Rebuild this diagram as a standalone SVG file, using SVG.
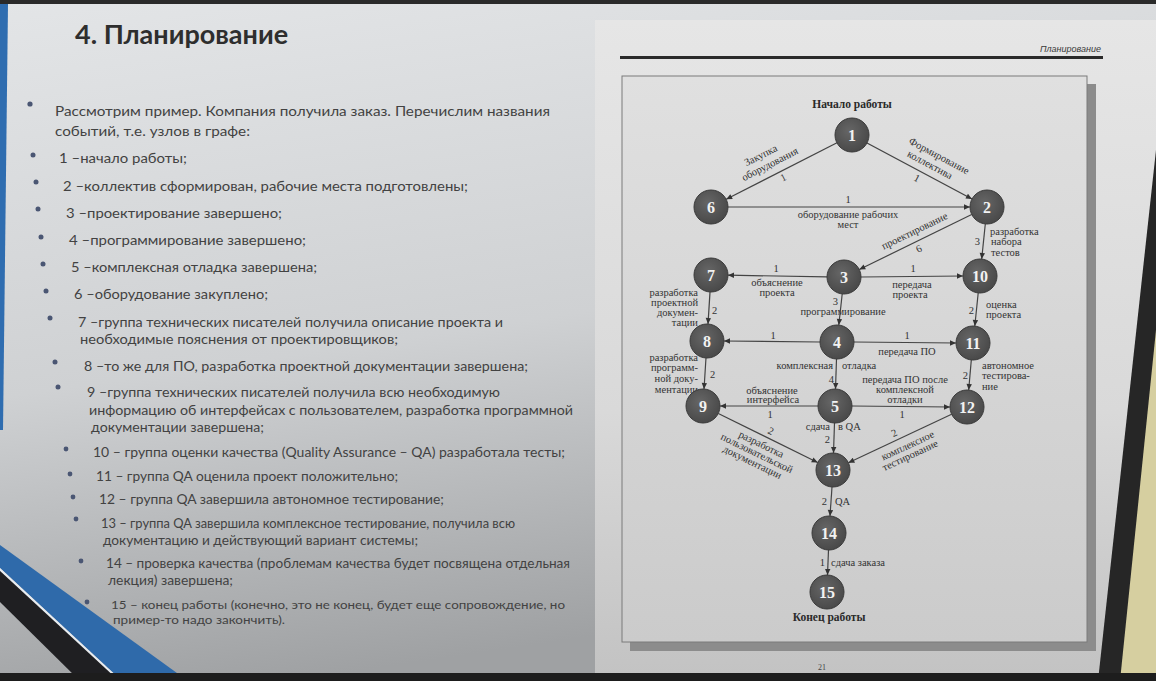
<svg xmlns="http://www.w3.org/2000/svg" width="1156" height="681" viewBox="0 0 1156 681">
  <defs>
    <linearGradient id="slideBg" x1="0" y1="0" x2="0.25" y2="1">
      <stop offset="0" stop-color="#e3e5e7"/>
      <stop offset="0.55" stop-color="#cfd1d3"/>
      <stop offset="1" stop-color="#9fa1a3"/>
    </linearGradient>
    <linearGradient id="pageBg" x1="0" y1="0" x2="0" y2="1">
      <stop offset="0" stop-color="#e6e6e6"/>
      <stop offset="0.6" stop-color="#d9d9d9"/>
      <stop offset="1" stop-color="#c3c3c3"/>
    </linearGradient>
    <linearGradient id="boxBg" x1="0" y1="0" x2="0" y2="1">
      <stop offset="0" stop-color="#e0e0e0"/>
      <stop offset="1" stop-color="#cbcbcb"/>
    </linearGradient>
    <radialGradient id="nodeFill" cx="0.42" cy="0.38" r="0.65">
      <stop offset="0" stop-color="#666"/>
      <stop offset="1" stop-color="#484848"/>
    </radialGradient>
    <marker id="arr" viewBox="0 0 10 10" refX="10" refY="5" markerWidth="8" markerHeight="6" orient="auto" markerUnits="userSpaceOnUse">
      <path d="M0,0.5 L10,5 L0,9.5 z" fill="#333"/>
    </marker>
    <style>
      .title { font-family: Lato, "Open Sans", sans-serif; font-weight: 700; font-size: 27px; fill: #2e2e2e; }
      .txt { font-family: Lato, "Liberation Sans", sans-serif; fill: #424242; }
      .bul { fill: #4a5673; }
      .edge { stroke: #444; stroke-width: 1.2; fill: none; marker-end: url(#arr); }
      .lbl { font-family: "Liberation Serif", "DejaVu Serif", serif; font-size: 10.5px; fill: #333; }
      .cap { font-family: "Liberation Serif", "DejaVu Serif", serif; font-size: 11.5px; font-weight: 700; fill: #2a2a2a; text-anchor: middle; }
      .node circle { fill: url(#nodeFill); stroke: #3a3a3a; stroke-width: 1; }
      .node text { font-family: "Liberation Serif", "DejaVu Serif", serif; font-size: 16px; font-weight: 700; fill: #f2f2f2; text-anchor: middle; }
      .mid { text-anchor: middle; }
      .end { text-anchor: end; }
    </style>
  </defs>

  <!-- slide background -->
  <rect x="0" y="0" width="1156" height="681" fill="url(#slideBg)"/>
  <rect x="0" y="0" width="1156" height="4" fill="#2a2a2a"/>
  <polygon points="0,4 8,4 3,430 0,430" fill="#2f6db0"/>

  <!-- decorative stripes, lower left -->
  <polygon points="0,545 0,568 122,681 188,681" fill="#2f6aaa"/>
  <polygon points="0,568 0,571 119,681 122,681" fill="#e8ecf0"/>
  <polygon points="0,571 0,602 80,681 119,681" fill="#1f1f22"/>

  <!-- page with the figure -->
  <rect x="595" y="20" width="561" height="653" fill="url(#pageBg)"/>
  <text x="1101" y="52" font-family="Liberation Sans, sans-serif" font-size="9" font-style="italic" fill="#3a3a3a" text-anchor="end">Планирование</text>
  <rect x="620" y="56" width="483" height="3" fill="#2a2a2a"/>
  <rect x="1087" y="84" width="9" height="567" fill="#8c8c8c"/>
  <rect x="630" y="642" width="466" height="9" fill="#8c8c8c"/>
  <rect x="622" y="76" width="465" height="566" fill="url(#boxBg)" stroke="#7a7a7a" stroke-width="1"/>
  <text x="822" y="670" font-family="Liberation Serif, serif" font-size="8" fill="#444" text-anchor="middle">21</text>

  <!-- monitor edge, lower right -->
  <polygon points="1156,150 1156,681 1098,681" fill="#262626"/>
  <polygon points="1156,330 1156,681 1120,681" fill="#d6cfa0"/>
  <rect x="0" y="673" width="1156" height="8" fill="#1d1d1d"/>

  <!-- heading and list of events -->
  <text class="title" x="75" y="44">4. Планирование</text>

  <g id="event-list">
    <circle class="bul" cx="30" cy="104" r="2.6"/>
    <text class="txt" x="55" y="116" font-size="14" textLength="495" lengthAdjust="spacingAndGlyphs">Рассмотрим пример. Компания получила заказ. Перечислим названия</text>
    <text class="txt" x="55" y="136" font-size="14" textLength="195" lengthAdjust="spacingAndGlyphs">событий, т.е. узлов в графе:</text>

    <circle class="bul" cx="33" cy="155" r="2.5"/>
    <text class="txt" x="59" y="163" font-size="13.5" textLength="128" lengthAdjust="spacingAndGlyphs">1 –начало работы;</text>
    <circle class="bul" cx="36" cy="182" r="2.5"/>
    <text class="txt" x="63" y="191" font-size="13.5" textLength="405" lengthAdjust="spacingAndGlyphs">2 –коллектив сформирован, рабочие места подготовлены;</text>
    <circle class="bul" cx="38" cy="209" r="2.5"/>
    <text class="txt" x="66" y="218" font-size="13.5" textLength="216" lengthAdjust="spacingAndGlyphs">3 –проектирование завершено;</text>
    <circle class="bul" cx="41" cy="237" r="2.5"/>
    <text class="txt" x="69" y="245" font-size="13.5" textLength="237" lengthAdjust="spacingAndGlyphs">4 –программирование завершено;</text>
    <circle class="bul" cx="43" cy="264" r="2.5"/>
    <text class="txt" x="71" y="272" font-size="13.3" textLength="246" lengthAdjust="spacingAndGlyphs">5 –комплексная отладка завершена;</text>
    <circle class="bul" cx="46" cy="291" r="2.5"/>
    <text class="txt" x="74" y="299" font-size="13.3" textLength="194" lengthAdjust="spacingAndGlyphs">6 –оборудование закуплено;</text>
    <circle class="bul" cx="50" cy="318" r="2.5"/>
    <text class="txt" x="78" y="327" font-size="13.2" textLength="425" lengthAdjust="spacingAndGlyphs">7 –группа технических писателей получила описание проекта и</text>
    <text class="txt" x="80" y="344" font-size="13.2" textLength="318" lengthAdjust="spacingAndGlyphs">необходимые пояснения от проектировщиков;</text>
    <circle class="bul" cx="55" cy="362" r="2.5"/>
    <text class="txt" x="84" y="371" font-size="13" textLength="444" lengthAdjust="spacingAndGlyphs">8 –то же для ПО, разработка проектной документации завершена;</text>
    <circle class="bul" cx="58" cy="387" r="2.5"/>
    <text class="txt" x="87" y="397" font-size="13" textLength="413" lengthAdjust="spacingAndGlyphs">9 –группа технических писателей получила всю необходимую</text>
    <text class="txt" x="89" y="415" font-size="13" textLength="484" lengthAdjust="spacingAndGlyphs">информацию об интерфейсах с пользователем, разработка программной</text>
    <text class="txt" x="91" y="432" font-size="13" textLength="173" lengthAdjust="spacingAndGlyphs">документации завершена;</text>
    <circle class="bul" cx="66" cy="449" r="2.4"/>
    <text class="txt" x="93" y="457" font-size="12.8" textLength="472" lengthAdjust="spacingAndGlyphs">10 – группа оценки качества (Quality Assurance – QA) разработала тесты;</text>
    <circle class="bul" cx="70" cy="474" r="2.4"/>
    <text class="txt" x="96" y="481" font-size="12.8" textLength="302" lengthAdjust="spacingAndGlyphs">11 – группа QA оценила проект положительно;</text>
    <circle class="bul" cx="73" cy="497" r="2.4"/>
    <text class="txt" x="99" y="504" font-size="12.6" textLength="345" lengthAdjust="spacingAndGlyphs">12 – группа QA завершила автономное тестирование;</text>
    <circle class="bul" cx="76" cy="519" r="2.4"/>
    <text class="txt" x="101" y="528" font-size="12.6" textLength="414" lengthAdjust="spacingAndGlyphs">13 – группа QA завершила комплексное тестирование, получила всю</text>
    <text class="txt" x="103" y="545" font-size="12.6" textLength="315" lengthAdjust="spacingAndGlyphs">документацию и действующий вариант системы;</text>
    <circle class="bul" cx="81" cy="561" r="2.4"/>
    <text class="txt" x="106" y="568" font-size="12.4" textLength="464" lengthAdjust="spacingAndGlyphs">14 – проверка качества (проблемам качества будет посвящена отдельная</text>
    <text class="txt" x="108" y="585" font-size="12.4" textLength="125" lengthAdjust="spacingAndGlyphs">лекция) завершена;</text>
    <circle class="bul" cx="87" cy="602" r="2.4"/>
    <text class="txt" x="111" y="609" font-size="12.2" textLength="454" lengthAdjust="spacingAndGlyphs">15 – конец работы (конечно, это не конец, будет еще сопровождение, но</text>
    <text class="txt" x="113" y="624" font-size="12.2" textLength="172" lengthAdjust="spacingAndGlyphs">пример-то надо закончить).</text>
  </g>

  <!-- network graph: connectors -->
  <g id="connectors">
    <line class="edge" x1="837" y1="142.7" x2="726.2" y2="199.3"/>
    <line class="edge" x1="867" y1="143" x2="972" y2="199"/>
    <line class="edge" x1="728" y1="207" x2="970" y2="207"/>
    <line class="edge" x1="971.7" y1="214.5" x2="859.3" y2="269.5"/>
    <line class="edge" x1="985.3" y1="224" x2="981.7" y2="259"/>
    <line class="edge" x1="827" y1="276.8" x2="728" y2="275.2"/>
    <line class="edge" x1="861" y1="277" x2="963" y2="276"/>
    <line class="edge" x1="842.2" y1="294" x2="838.8" y2="325"/>
    <line class="edge" x1="710" y1="292" x2="708" y2="324"/>
    <line class="edge" x1="978.2" y1="293" x2="974.8" y2="326"/>
    <line class="edge" x1="820" y1="342" x2="724" y2="341"/>
    <line class="edge" x1="854" y1="342" x2="956" y2="343"/>
    <line class="edge" x1="836.5" y1="359" x2="835.5" y2="389"/>
    <line class="edge" x1="706" y1="358" x2="704" y2="389"/>
    <line class="edge" x1="971.3" y1="360" x2="968.7" y2="390"/>
    <line class="edge" x1="818" y1="406" x2="720" y2="406"/>
    <line class="edge" x1="852" y1="406" x2="950" y2="407"/>
    <line class="edge" x1="834.5" y1="423" x2="833.5" y2="453"/>
    <line class="edge" x1="718.3" y1="413.5" x2="817.7" y2="462.5"/>
    <line class="edge" x1="951.6" y1="414.2" x2="848.4" y2="462.8"/>
    <line class="edge" x1="832" y1="487" x2="830" y2="516"/>
    <line class="edge" x1="828.5" y1="550" x2="827.5" y2="575"/>
  </g>

  <!-- connector labels -->
  <g id="edge-labels">
    <text class="cap" x="852" y="108">Начало работы</text>
    <text class="cap" x="829" y="621">Конец работы</text>

    <!-- 1 -> 6 -->
    <g transform="translate(775,174.3) rotate(-27)">
      <text class="lbl mid" x="-4" y="-20">Закупка</text>
      <text class="lbl mid" x="0" y="-8">оборудования</text>
      <text class="lbl mid" x="6" y="10">1</text>
    </g>
    <!-- 1 -> 2 -->
    <g transform="translate(925,173.9) rotate(28)">
      <text class="lbl mid" x="4" y="-19">Формирование</text>
      <text class="lbl mid" x="0" y="-7">коллектива</text>
      <text class="lbl mid" x="-5" y="11">1</text>
    </g>
    <!-- 6 -> 2 -->
    <text class="lbl mid" x="848" y="203">1</text>
    <text class="lbl mid" x="848" y="218">оборудование рабочих</text>
    <text class="lbl mid" x="848" y="228">мест</text>
    <!-- 2 -> 3 -->
    <g transform="translate(915.5,242) rotate(-26)">
      <text class="lbl mid" x="4" y="-7">проектирование</text>
      <text class="lbl mid" x="0" y="11">6</text>
    </g>
    <!-- 2 -> 10 -->
    <text class="lbl end" x="980" y="245">3</text>
    <text class="lbl" x="990" y="235">разработка</text>
    <text class="lbl" x="991" y="245">набора</text>
    <text class="lbl" x="991" y="256">тестов</text>
    <!-- 3 -> 7 -->
    <text class="lbl mid" x="776" y="272">1</text>
    <text class="lbl mid" x="777" y="286">объяснение</text>
    <text class="lbl mid" x="777" y="296">проекта</text>
    <!-- 3 -> 10 -->
    <text class="lbl mid" x="913" y="272">1</text>
    <text class="lbl mid" x="912" y="288">передача</text>
    <text class="lbl mid" x="910" y="298">проекта</text>
    <!-- 3 -> 4 -->
    <text class="lbl end" x="838" y="305">3</text>
    <text class="lbl mid" x="843" y="315">программирование</text>
    <!-- 7 -> 8 -->
    <text class="lbl" x="712" y="314">2</text>
    <text class="lbl end" x="698" y="296">разработка</text>
    <text class="lbl end" x="698" y="306">проектной</text>
    <text class="lbl end" x="698" y="316">докумен-</text>
    <text class="lbl end" x="698" y="326">тации</text>
    <!-- 10 -> 11 -->
    <text class="lbl end" x="974" y="314">2</text>
    <text class="lbl" x="986" y="308">оценка</text>
    <text class="lbl" x="986" y="318">проекта</text>
    <!-- 4 -> 8 -->
    <text class="lbl mid" x="773" y="339">1</text>
    <!-- 4 -> 11 -->
    <text class="lbl mid" x="907" y="339">1</text>
    <text class="lbl mid" x="907" y="355">передача ПО</text>
    <!-- 4 -> 5 -->
    <text class="lbl end" x="833" y="369">комплексная</text>
    <text class="lbl" x="842" y="369">отладка</text>
    <text class="lbl end" x="834" y="383">4</text>
    <!-- 8 -> 9 -->
    <text class="lbl" x="710" y="378">2</text>
    <text class="lbl end" x="698" y="361">разработка</text>
    <text class="lbl end" x="698" y="371">программ-</text>
    <text class="lbl end" x="698" y="382">ной доку-</text>
    <text class="lbl end" x="698" y="393">ментации</text>
    <!-- 11 -> 12 -->
    <text class="lbl end" x="968" y="379">2</text>
    <text class="lbl" x="982" y="369">автономное</text>
    <text class="lbl" x="982" y="379">тестирова-</text>
    <text class="lbl" x="982" y="390">ние</text>
    <!-- 5 -> 9 -->
    <text class="lbl mid" x="772" y="394">объяснение</text>
    <text class="lbl mid" x="773" y="403">интерфейса</text>
    <text class="lbl mid" x="770" y="418">1</text>
    <!-- 5 -> 12 -->
    <text class="lbl mid" x="905" y="383">передача ПО после</text>
    <text class="lbl mid" x="905" y="393">комплексной</text>
    <text class="lbl mid" x="905" y="403">отладки</text>
    <text class="lbl mid" x="902" y="418">1</text>
    <!-- 5 -> 13 -->
    <text class="lbl end" x="830" y="430">сдача</text>
    <text class="lbl" x="838" y="430">в QA</text>
    <text class="lbl end" x="830" y="443">2</text>
    <!-- 9 -> 13 -->
    <g transform="translate(765,436.5) rotate(26)">
      <text class="lbl mid" x="3" y="-4">2</text>
      <text class="lbl mid" x="0" y="12">разработка</text>
      <text class="lbl mid" x="0" y="22">пользовательской</text>
      <text class="lbl mid" x="0" y="32">документации</text>
    </g>
    <!-- 12 -> 13 -->
    <g transform="translate(900,438.5) rotate(-25)">
      <text class="lbl mid" x="-3" y="-4">2</text>
      <text class="lbl mid" x="4" y="13">комплексное</text>
      <text class="lbl mid" x="2" y="23">тестирование</text>
    </g>
    <!-- 13 -> 14 -->
    <text class="lbl end" x="827" y="505">2</text>
    <text class="lbl" x="835" y="505">QA</text>
    <!-- 14 -> 15 -->
    <text class="lbl end" x="825" y="566">1</text>
    <text class="lbl" x="831" y="566">сдача заказа</text>
  </g>

  <!-- network graph: events -->
  <g id="node-1" class="node"><circle cx="852" cy="135" r="17"/><text x="852" y="140.5">1</text></g>
  <g id="node-2" class="node"><circle cx="987" cy="207" r="17"/><text x="987" y="212.5">2</text></g>
  <g id="node-3" class="node"><circle cx="844" cy="277" r="17"/><text x="844" y="282.5">3</text></g>
  <g id="node-4" class="node"><circle cx="837" cy="342" r="17"/><text x="837" y="347.5">4</text></g>
  <g id="node-5" class="node"><circle cx="835" cy="406" r="17"/><text x="835" y="411.5">5</text></g>
  <g id="node-6" class="node"><circle cx="711" cy="207" r="17"/><text x="711" y="212.5">6</text></g>
  <g id="node-7" class="node"><circle cx="711" cy="275" r="17"/><text x="711" y="280.5">7</text></g>
  <g id="node-8" class="node"><circle cx="707" cy="341" r="17"/><text x="707" y="346.5">8</text></g>
  <g id="node-9" class="node"><circle cx="703" cy="406" r="17"/><text x="703" y="411.5">9</text></g>
  <g id="node-10" class="node"><circle cx="980" cy="276" r="17"/><text x="980" y="281.5">10</text></g>
  <g id="node-11" class="node"><circle cx="973" cy="343" r="17"/><text x="973" y="348.5">11</text></g>
  <g id="node-12" class="node"><circle cx="967" cy="407" r="17"/><text x="967" y="412.5">12</text></g>
  <g id="node-13" class="node"><circle cx="833" cy="470" r="17"/><text x="833" y="475.5">13</text></g>
  <g id="node-14" class="node"><circle cx="829" cy="533" r="17"/><text x="829" y="538.5">14</text></g>
  <g id="node-15" class="node"><circle cx="827" cy="592" r="17"/><text x="827" y="597.5">15</text></g>
</svg>
